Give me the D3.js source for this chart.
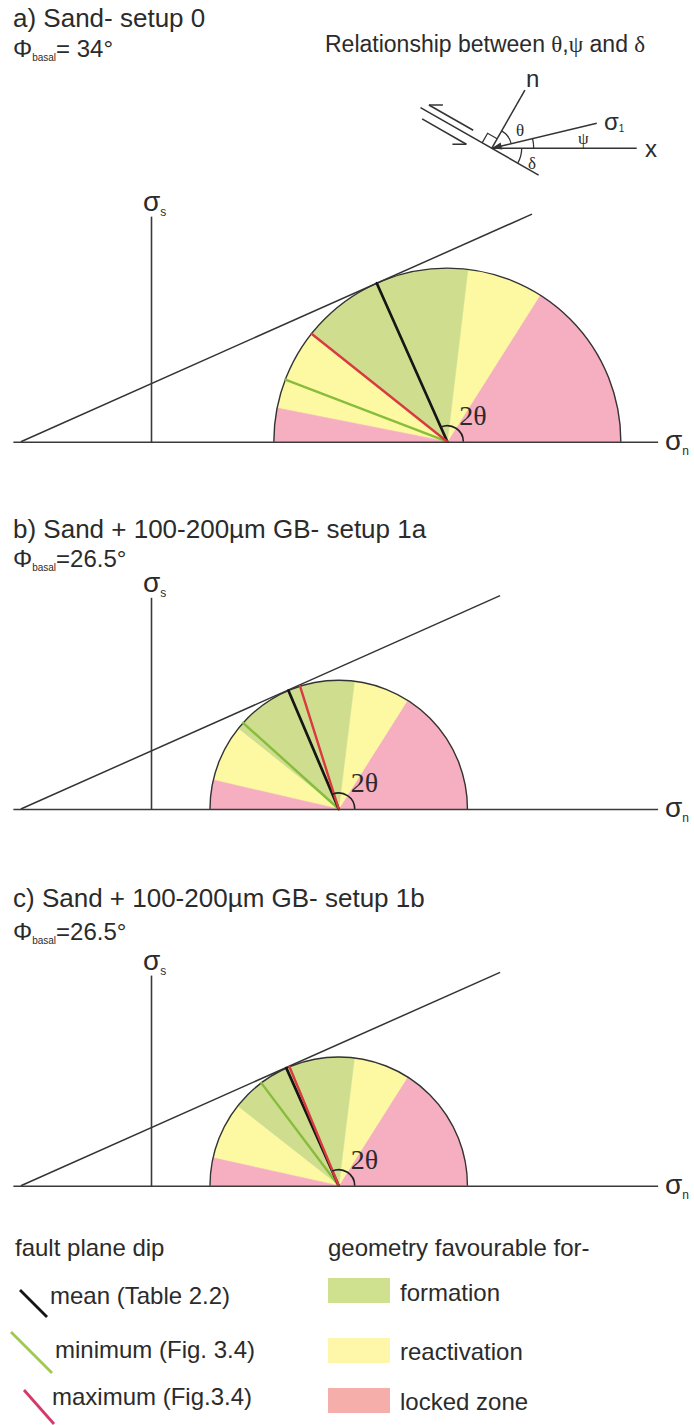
<!DOCTYPE html>
<html>
<head>
<meta charset="utf-8">
<script src="https://cdn.jsdelivr.net/npm/d3@7"></script>
<style>
  html, body { margin: 0; padding: 0; background: #fff; }
  svg { display: block; }
  text { font-family: "Liberation Sans", Arial, sans-serif; fill: #2b2b2b; }
  .serif { font-family: "Liberation Serif", "Times New Roman", serif; }
</style>
</head>
<body>
<svg id="chart" width="694" height="1425"></svg>
<script>
// ---------- data ----------
const panelIds = ["a", "b", "c"];
const panelTitles = [
  "a) Sand- setup 0",
  "b) Sand + 100-200µm GB- setup 1a",
  "c) Sand + 100-200µm GB- setup 1b"
];
const phiBasalText = ["= 34°", "=26.5°", "=26.5°"];

// Mohr circle (stress units): centre on σn axis and radius
const circleCentres = [85.4, 54.1, 54.1];
const circleRadii = [50, 37.1, 37.1];

// Zones around the circle, bounded by 2θ (degrees from the σn axis)
const zoneNames = ["locked", "reactivation", "formation", "reactivation", "locked"];
const zoneBounds2Theta = [
  [0, 57.7, 83.2, 141.5, 168.8, 180],
  [0, 57.7, 83.0, 141.4, 167.0, 180],
  [0, 57.7, 83.0, 141.9, 167.5, 180]
];

// Fault plane dips plotted as 2θ
const meanDip2Theta = [114, 113, 114];
const minimumDip2Theta = [159, 138, 127];
const maximumDip2Theta = [141.5, 107.5, 112.5];

// Failure envelope
const envelopeIntercept = -37.5;   // σn where the envelope meets the axis
const envelopeAngle = 24;          // degrees
const envelopeEnds = [109.8, 100.6, 100.6];

// Axis extents (stress units)
const normalAxisExtent = [-39.8, 146];
const shearAxisTops = [65, 61, 60.7];

// Legend
const legendDipLabels = ["mean (Table 2.2)", "minimum (Fig. 3.4)", "maximum (Fig.3.4)"];
const legendZoneLabels = ["formation", "reactivation", "locked zone"];

// Inset sketch angles (degrees, counter-clockwise from x)
const insetAngleX = 0;
const insetAngleSigma1 = 13.4;
const insetAngleNormal = 60.3;
const insetAngleFault = -29.7;

// ---------- layout & style ----------
const unitPx = 3.47;
const originX = 151;
const panelAxisY = [441.7, 809, 1185.7];
const titleBaselines = [27, 538, 907];
const phiBaselines = [57, 567, 940];

const zoneColours = { formation: "#cfdd8f", reactivation: "#fdf8a2", locked: "#f6aec1" };
const legendZoneColours = ["#cfe08f", "#fef6a9", "#f5aeaa"];
const dipColours = { mean: "#161616", minimum: "#86bd3c", maximum: "#d83a40" };
const legendDipColours = ["#161616", "#a2c94f", "#d63868"];
const inkColour = "#333";
const deg = Math.PI / 180;

const svg = d3.select("#chart");

// ---------- Mohr diagrams ----------
panelIds.forEach((id, i) => {
  const axisY = panelAxisY[i];
  const x = d3.scaleLinear().domain([0, 100]).range([originX, originX + 100 * unitPx]);
  const y = d3.scaleLinear().domain([0, 100]).range([axisY, axisY - 100 * unitPx]);
  const g = svg.append("g").attr("class", "panel-" + id);

  const c = circleCentres[i], r = circleRadii[i];
  const cx = x(c), cy = y(0);
  const R = x(c + r) - cx;

  // coloured zones
  const bounds = zoneBounds2Theta[i];
  const sectors = zoneNames.map((z, k) => ({ zone: z, from: bounds[k], to: bounds[k + 1] }));
  const sectorArc = d3.arc()
    .innerRadius(0).outerRadius(R)
    .startAngle(d => (90 - d.to) * deg)
    .endAngle(d => (90 - d.from) * deg);
  g.append("g").attr("transform", `translate(${cx},${cy})`)
    .selectAll("path").data(sectors).join("path")
    .attr("d", sectorArc)
    .attr("fill", d => zoneColours[d.zone])
    .attr("stroke", d => zoneColours[d.zone])
    .attr("stroke-width", 0.6);

  // failure envelope
  const slope = Math.tan(envelopeAngle * deg);
  const envPts = [[envelopeIntercept, 0], [envelopeEnds[i], (envelopeEnds[i] - envelopeIntercept) * slope]];
  g.append("path")
    .attr("d", d3.line().x(d => x(d[0])).y(d => y(d[1]))(envPts))
    .attr("fill", "none").attr("stroke", inkColour).attr("stroke-width", 1.5);

  // semicircle outline
  const outline = d3.path();
  outline.moveTo(cx + R, cy);
  outline.arc(cx, cy, R, 0, -Math.PI, true);
  g.append("path").attr("d", outline.toString())
    .attr("fill", "none").attr("stroke", inkColour).attr("stroke-width", 1.4);

  // fault plane dips
  const dips = [
    { kind: "minimum", a: minimumDip2Theta[i] },
    { kind: "mean", a: meanDip2Theta[i] },
    { kind: "maximum", a: maximumDip2Theta[i] }
  ];
  g.selectAll("line.dip").data(dips).join("line")
    .attr("class", "dip")
    .attr("x1", cx).attr("y1", cy)
    .attr("x2", d => x(c + r * Math.cos(d.a * deg)))
    .attr("y2", d => y(r * Math.sin(d.a * deg)))
    .attr("stroke", d => dipColours[d.kind])
    .attr("stroke-width", d => d.kind === "mean" ? 2.7 : 2.4)
    .attr("stroke-linecap", "round");

  // 2θ angle marker
  const mark = d3.path();
  mark.moveTo(cx + 16, cy);
  mark.arc(cx, cy, 16, 0, -meanDip2Theta[i] * deg, true);
  g.append("path").attr("d", mark.toString())
    .attr("fill", "none").attr("stroke", "#222").attr("stroke-width", 1.6);
  g.append("text").attr("class", "serif")
    .attr("x", cx + 12).attr("y", cy - 17)
    .attr("font-size", 28).text("2θ");

  // axes
  const xAxisScale = d3.scaleLinear().domain(normalAxisExtent).range(normalAxisExtent.map(x));
  const yAxisScale = d3.scaleLinear().domain([0, shearAxisTops[i]]).range([y(0), y(shearAxisTops[i])]);
  const xa = g.append("g").attr("transform", `translate(0,${axisY})`)
    .call(d3.axisBottom(xAxisScale).tickValues([]).tickSizeOuter(0));
  const ya = g.append("g").attr("transform", `translate(${x(0)},0)`)
    .call(d3.axisLeft(yAxisScale).tickValues([]).tickSizeOuter(0));
  [xa, ya].forEach(a => a.select(".domain").attr("stroke", "#3a3a3a").attr("stroke-width", 1.6));

  // axis labels
  const sl = g.append("text").attr("x", x(0) - 8).attr("y", y(shearAxisTops[i]) - 5).attr("font-size", 28);
  sl.append("tspan").text("σ");
  sl.append("tspan").attr("font-size", 12).attr("dy", 5).text("s");
  const nl = g.append("text").attr("x", 665).attr("y", axisY + 8).attr("font-size", 28);
  nl.append("tspan").text("σ");
  nl.append("tspan").attr("font-size", 12).attr("dy", 5).text("n");

  // titles
  g.append("text").attr("x", 13).attr("y", titleBaselines[i]).attr("font-size", 26).text(panelTitles[i]);
  const ph = g.append("text").attr("x", 13).attr("y", phiBaselines[i]).attr("font-size", 24);
  ph.append("tspan").text("Φ");
  ph.append("tspan").attr("font-size", 10).attr("dy", 4).text("basal");
  ph.append("tspan").attr("dy", -4).text(phiBasalText[i]);
});

// ---------- inset: relationship between θ, ψ and δ ----------
const inset = svg.append("g").attr("class", "inset");
const head = inset.append("text").attr("x", 325).attr("y", 51.7).attr("font-size", 23);
head.append("tspan").text("Relationship between ");
head.append("tspan").attr("class", "serif").text("θ");
head.append("tspan").text(",");
head.append("tspan").attr("class", "serif").text("ψ");
head.append("tspan").text(" and ");
head.append("tspan").attr("class", "serif").text("δ");

const O = [491.7, 148.3];
const dir = a => [Math.cos(a * deg), -Math.sin(a * deg)];
const at = (a, len) => [O[0] + dir(a)[0] * len, O[1] + dir(a)[1] * len];
const u = dir(insetAngleFault + 180), nv = dir(insetAngleNormal);
const onFault = (t, d) => [O[0] + u[0] * t + nv[0] * d, O[1] + u[1] * t + nv[1] * d];
const seg = (p, q, w) => inset.append("line")
  .attr("x1", p[0]).attr("y1", p[1]).attr("x2", q[0]).attr("y2", q[1])
  .attr("stroke", inkColour).attr("stroke-width", w || 1.5);

seg(at(insetAngleFault + 180, 82), at(insetAngleFault, 54));           // fault plane
seg(O, at(insetAngleX, 145));                                          // x
seg(O, at(insetAngleSigma1, 108));                                     // σ1
seg(O, at(insetAngleNormal, 67));                                      // n
// shear sense half-arrows
const up0 = onFault(25, 6.5), up1 = onFault(76, 6.5);
seg(up0, up1); seg(up1, [up1[0] + 14, up1[1]]);
const lo0 = onFault(75, -9), lo1 = onFault(24, -9);
seg(lo0, lo1); seg(lo1, [lo1[0] - 14, lo1[1]]);
// right-angle box
const s = 11;
inset.append("path")
  .attr("d", d3.line()([onFault(s, 0), onFault(s, s), onFault(0, s)]))
  .attr("fill", "none").attr("stroke", inkColour).attr("stroke-width", 1.3);
// arrowhead of σ1 at the origin
const sd = dir(insetAngleSigma1), sp = [-sd[1], sd[0]];
const base = [O[0] + sd[0] * 10, O[1] + sd[1] * 10];
inset.append("path")
  .attr("d", d3.line()([O, [base[0] + sp[0] * 3.5, base[1] + sp[1] * 3.5], [base[0] - sp[0] * 3.5, base[1] - sp[1] * 3.5]]) + "Z")
  .attr("fill", inkColour);
// angle arcs
const angleArc = (rad, a0, a1) => {
  const p = d3.path();
  p.moveTo(O[0] + rad * Math.cos(-a0 * deg), O[1] + rad * Math.sin(-a0 * deg));
  p.arc(O[0], O[1], rad, -a0 * deg, -a1 * deg, a1 > a0);
  inset.append("path").attr("d", p.toString()).attr("fill", "none")
    .attr("stroke", inkColour).attr("stroke-width", 1.3);
};
angleArc(20, insetAngleSigma1, insetAngleNormal);
angleArc(42, insetAngleX, insetAngleSigma1);
angleArc(30, insetAngleFault, insetAngleX);
// labels
const lab = (xx, yy, t, size, cls) => inset.append("text").attr("x", xx).attr("y", yy)
  .attr("font-size", size).attr("class", cls || null).text(t);
lab(516, 136, "θ", 17, "serif");
lab(578, 144, "ψ", 17, "serif");
lab(528, 169, "δ", 17, "serif");
lab(526, 87, "n", 24);
lab(645, 157, "x", 24);
const sg = inset.append("text").attr("x", 604).attr("y", 130).attr("font-size", 24);
sg.append("tspan").text("σ");
sg.append("tspan").attr("font-size", 10).attr("dy", 2).text("1");

// ---------- legend ----------
const legend = svg.append("g").attr("class", "legend");
legend.append("text").attr("x", 15).attr("y", 1256).attr("font-size", 24).text("fault plane dip");
legend.append("text").attr("x", 328).attr("y", 1256).attr("font-size", 24).text("geometry favourable for-");

const dipMarks = [[20, 1290, 47, 1317], [11, 1332, 52, 1373], [24, 1390, 54, 1424]];
const dipTextX = [50, 55, 52];
const dipBaselines = [1304, 1358, 1405];
legend.selectAll("line.key").data(legendDipLabels).join("line")
  .attr("class", "key")
  .attr("x1", (d, k) => dipMarks[k][0]).attr("y1", (d, k) => dipMarks[k][1])
  .attr("x2", (d, k) => dipMarks[k][2]).attr("y2", (d, k) => dipMarks[k][3])
  .attr("stroke", (d, k) => legendDipColours[k]).attr("stroke-width", 2.8);
legend.selectAll("text.dip").data(legendDipLabels).join("text")
  .attr("class", "dip").attr("font-size", 24)
  .attr("x", (d, k) => dipTextX[k]).attr("y", (d, k) => dipBaselines[k])
  .text(d => d);

const swatchY = [1278, 1338, 1388];
const zoneBaselines = [1301, 1360, 1410];
legend.selectAll("rect").data(legendZoneLabels).join("rect")
  .attr("x", 328).attr("y", (d, k) => swatchY[k]).attr("width", 62).attr("height", 25)
  .attr("fill", (d, k) => legendZoneColours[k]);
legend.selectAll("text.zone").data(legendZoneLabels).join("text")
  .attr("class", "zone").attr("font-size", 24)
  .attr("x", 400).attr("y", (d, k) => zoneBaselines[k])
  .text(d => d);
</script>
</body>
</html>
